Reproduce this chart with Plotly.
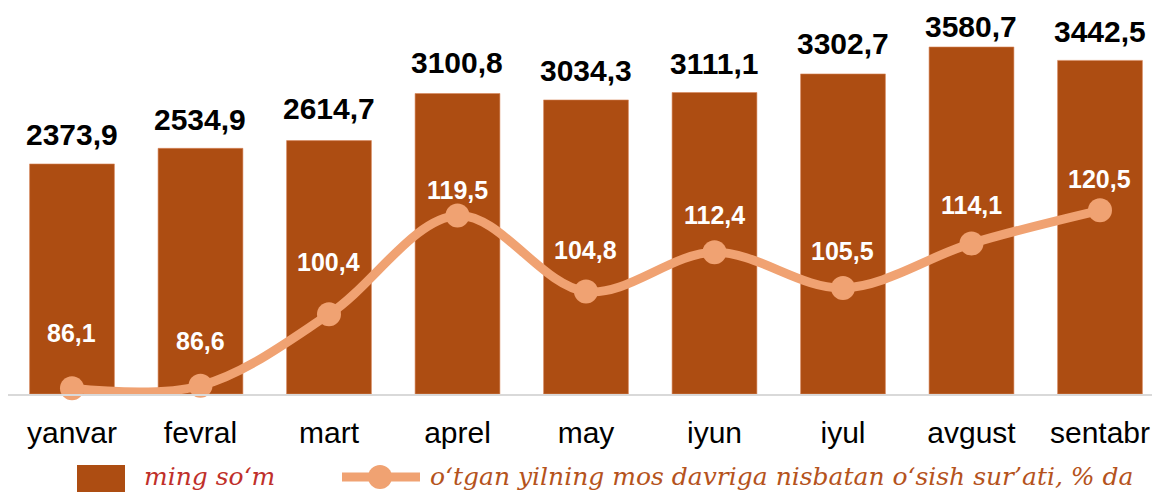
import plotly.graph_objects as go

months = ["yanvar", "fevral", "mart", "aprel", "may", "iyun", "iyul", "avgust", "sentabr"]
values = [2373.9, 2534.9, 2614.7, 3100.8, 3034.3, 3111.1, 3302.7, 3580.7, 3442.5]
growth = [86.1, 86.6, 100.4, 119.5, 104.8, 112.4, 105.5, 114.1, 120.5]
bar_label_shift = [29, 29, 32, 31, 29, 29, 30, 20, 29]
label_shift = [55, 45, 52, 25, 42, 37, 37, 38, 31]

legend_bar = "ming so‘m"
legend_line = "o‘tgan yilning mos davriga nisbatan o‘sish sur’ati, % da"

BAR = "#AD4D12"
LINE = "#F0A272"

def fmt(v):
    return f"{v:.1f}".replace(".", ",")

PH = 386.0  # plot height in px
PW = 1152.0

fig = go.Figure()
fig.add_trace(go.Bar(
    x=months, y=values, marker=dict(color=BAR, line=dict(color="#D9875A", width=0.6)),
    width=0.66, cliponaxis=False, showlegend=False,
))
fig.add_trace(go.Scatter(
    x=months, y=growth, yaxis="y2", mode="lines+markers",
    line=dict(color=LINE, width=9, shape="spline", smoothing=1.0),
    marker=dict(size=24, color=LINE),
    cliponaxis=False, showlegend=False,
))
for m, v, s in zip(months, values, bar_label_shift):
    fig.add_annotation(x=m, y=v, yref="y", text=fmt(v), showarrow=False,
                       yanchor="middle", yshift=s,
                       font=dict(family="Liberation Sans", size=30, color="black", weight="bold"))
for m, g, s in zip(months, growth, label_shift):
    fig.add_annotation(x=m, y=g, yref="y2", text=fmt(g), showarrow=False,
                       yanchor="middle", yshift=s,
                       font=dict(family="Liberation Sans", size=25, color="white", weight="bold"))

# custom legend
ly = -83 / PH
fig.add_shape(type="rect", xref="paper", yref="paper", x0=69/PW, x1=117/PW,
              y0=-98/PH, y1=-71/PH, fillcolor=BAR, line=dict(width=0), layer="above")
fig.add_annotation(xref="paper", yref="paper", x=134/PW, y=ly, xanchor="left", yanchor="middle",
                   text=legend_bar, showarrow=False,
                   font=dict(family="DejaVu Serif", size=25, color="#C0302A", style="italic"))
fig.add_shape(type="line", xref="paper", yref="paper", x0=334/PW, x1=412/PW,
              y0=ly, y1=ly, line=dict(color=LINE, width=9), layer="above")
fig.add_shape(type="circle", xref="paper", yref="paper", x0=360/PW, x1=384/PW,
              y0=ly - 12/PH, y1=ly + 12/PH, fillcolor=LINE, line=dict(width=0), layer="above")
fig.add_annotation(xref="paper", yref="paper", x=420/PW, y=ly, xanchor="left", yanchor="middle",
                   text=legend_line, showarrow=False,
                   font=dict(family="DejaVu Serif", size=25, color="#B5531C", style="italic"))

fig.update_layout(
    width=1152, height=484,
    margin=dict(l=0, r=0, t=0, b=98),
    plot_bgcolor="white", paper_bgcolor="white",
    xaxis=dict(showgrid=False, showline=True, linecolor="#D9D9D9", linewidth=1.5,
               ticks="", tickfont=dict(family="Liberation Sans", size=30, color="black"),
               ticklabelstandoff=11, range=[-0.498, 8.467]),
    yaxis=dict(range=[0, 3983], visible=False, showgrid=False, zeroline=False),
    yaxis2=dict(range=[85, 159.6], overlaying="y", visible=False, showgrid=False, zeroline=False),
    showlegend=False,
)
fig.write_html("out.html")
